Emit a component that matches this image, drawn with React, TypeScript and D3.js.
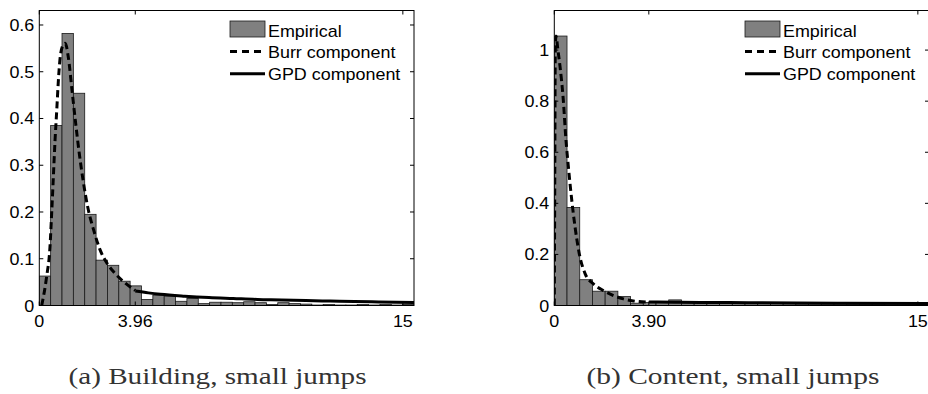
import React from "react";
import * as d3 from "d3";

// ---------- data ----------
const leftBinWidth = 0.4685;
const leftBins = [
  0.063, 0.385, 0.582, 0.454, 0.195, 0.097, 0.086, 0.052, 0.042, 0.013, 0.022,
  0.02, 0.009, 0.015, 0.004, 0.007, 0.007, 0.006, 0.008, 0.006, 0.002, 0.006,
  0.004, 0.003, 0.001, 0.002, 0.001, 0.001, 0.002, 0.001, 0.002, 0.001, 0.002,
];
const rightBinWidth = 0.5246;
const rightBins = [
  1.055, 0.384, 0.101, 0.056, 0.056, 0.035, 0.009, 0.012, 0.014, 0.022, 0.012,
  0.011, 0.01, 0.01, 0.009, 0.008, 0.012, 0.008, 0.007, 0.006, 0.006, 0.005,
  0.005, 0.004, 0.004, 0.004, 0.003, 0.003, 0.003, 0.003,
];
const leftBurr: [number, number][] = [
  [0.1, 0.0], [0.3, 0.061], [0.44, 0.125], [0.51, 0.197], [0.58, 0.275],
  [0.65, 0.354], [0.72, 0.418], [0.78, 0.475], [0.85, 0.525], [0.97, 0.556],
  [1.07, 0.561], [1.2, 0.53], [1.35, 0.46], [1.5, 0.39], [1.65, 0.325],
  [1.8, 0.27], [2.0, 0.21], [2.25, 0.16], [2.5, 0.12], [2.8, 0.09],
  [3.1, 0.07], [3.5, 0.05], [3.96, 0.032],
];
const leftGpd: [number, number][] = [
  [3.96, 0.031], [4.5, 0.027], [5, 0.024], [6, 0.02], [7, 0.017], [8, 0.015],
  [9, 0.013], [10, 0.012], [11, 0.0105], [12, 0.0095], [13, 0.0085],
  [14, 0.0075], [15.46, 0.0065],
];
const rightBurr: [number, number][] = [
  [0.0, 0.0], [0.02, 0.5], [0.04, 1.0], [0.07, 1.055], [0.15, 1.0],
  [0.235, 0.937], [0.37, 0.806], [0.48, 0.649], [0.58, 0.544], [0.72, 0.413],
  [0.855, 0.308], [1.03, 0.203], [1.27, 0.125], [1.61, 0.085], [2.02, 0.059],
  [2.44, 0.039], [2.85, 0.026], [3.26, 0.018], [3.9, 0.013],
];
const rightGpd: [number, number][] = [
  [3.9, 0.014], [5, 0.013], [6, 0.012], [8, 0.011], [10, 0.0095],
  [12, 0.0085], [15.46, 0.0075],
];
const leftXTicks = [0, 3.96, 15];
const leftXLabels = ["0", "3.96", "15"];
const leftYTicks = [0, 0.1, 0.2, 0.3, 0.4, 0.5, 0.6];
const leftYLabels = ["0", "0.1", "0.2", "0.3", "0.4", "0.5", "0.6"];
const rightXTicks = [0, 3.9, 15];
const rightXLabels = ["0", "3.90", "15"];
const rightYTicks = [0, 0.2, 0.4, 0.6, 0.8, 1];
const rightYLabels = ["0", "0.2", "0.4", "0.6", "0.8", "1"];
const legendLabels = ["Empirical", "Burr component", "GPD component"];
const captions = ["(a) Building, small jumps", "(b) Content, small jumps"];

const SANS = "'Liberation Sans', Arial, Helvetica, sans-serif";
const SERIF = "'Liberation Serif', 'Times New Roman', serif";

function Txt(props: {
  x: number;
  y: number;
  anchor?: string;
  size?: number;
  children: React.ReactNode;
}) {
  const { x, y, anchor = "start", size = 16, children } = props;
  return (
    <text
      transform={`translate(${x},${y}) scale(1.12,1)`}
      textAnchor={anchor as any}
      fontSize={size}
      fontFamily={SANS}
      fill="#000"
    >
      {children}
    </text>
  );
}

type PanelProps = {
  id: string;
  x0: number;
  x1: number;
  yMax: number;
  bins: number[];
  binWidth: number;
  burr: [number, number][];
  gpd: [number, number][];
  xTicks: number[];
  xLabels: string[];
  yTicks: number[];
  yLabels: string[];
  caption: string;
  capCenter: number;
  capWidth: number;
};

const TOP = 10.5;
const BOTTOM = 305.5;
const XMAX = 15.46;

function Panel(p: PanelProps) {
  const x = d3.scaleLinear().domain([0, XMAX]).range([p.x0, p.x1]);
  const y = d3.scaleLinear().domain([0, p.yMax]).range([BOTTOM, TOP]);
  const line = d3
    .line<[number, number]>()
    .x((d) => x(d[0]))
    .y((d) => y(d[1]))
    .curve(d3.curveMonotoneX);
  const tick = 4;
  const legX = p.x1 - 184;
  const txtX = p.x1 - 146;
  return (
    <g>
      <defs>
        <clipPath id={`clip-${p.id}`}>
          <rect x={p.x0} y={TOP} width={p.x1 - p.x0} height={BOTTOM - TOP} />
        </clipPath>
      </defs>
      <rect x={p.x0} y={TOP} width={p.x1 - p.x0} height={BOTTOM - TOP} fill="#fff" />
      <g clipPath={`url(#clip-${p.id})`}>
        {p.bins.map((v, i) => (
          <rect
            key={i}
            x={x(i * p.binWidth)}
            y={y(v)}
            width={x((i + 1) * p.binWidth) - x(i * p.binWidth)}
            height={BOTTOM - y(v)}
            fill="#808080"
            stroke="#1a1a1a"
            strokeWidth={0.8}
          />
        ))}
        <path
          d={line(p.burr) || ""}
          fill="none"
          stroke="#000"
          strokeWidth={3}
          strokeDasharray="7,4"
        />
        <path d={line(p.gpd) || ""} fill="none" stroke="#000" strokeWidth={3} />
      </g>
      {/* box */}
      <rect
        x={p.x0}
        y={TOP}
        width={p.x1 - p.x0}
        height={BOTTOM - TOP}
        fill="none"
        stroke="#000"
        strokeWidth={1}
      />
      {/* ticks */}
      {p.xTicks.map((t, i) => (
        <g key={`xt${i}`}>
          <line x1={x(t)} x2={x(t)} y1={BOTTOM} y2={BOTTOM - tick} stroke="#000" />
          <line x1={x(t)} x2={x(t)} y1={TOP} y2={TOP + tick} stroke="#000" />
          <Txt x={x(t)} y={BOTTOM + 21.5} anchor="middle">
            {p.xLabels[i]}
          </Txt>
        </g>
      ))}
      {p.yTicks.map((t, i) => (
        <g key={`yt${i}`}>
          <line x1={p.x0} x2={p.x0 + tick} y1={y(t)} y2={y(t)} stroke="#000" />
          <line x1={p.x1} x2={p.x1 - tick} y1={y(t)} y2={y(t)} stroke="#000" />
          <Txt x={p.x0 - 5} y={y(t) + 6} anchor="end">
            {p.yLabels[i]}
          </Txt>
        </g>
      ))}
      {/* legend */}
      <rect x={legX} y={21} width={35} height={16} fill="#808080" stroke="#1a1a1a" strokeWidth={0.8} />
      <line
        x1={legX}
        x2={legX + 35}
        y1={51.5}
        y2={51.5}
        stroke="#000"
        strokeWidth={3}
        strokeDasharray="7,5"
      />
      <line x1={legX} x2={legX + 35} y1={73.8} y2={73.8} stroke="#000" strokeWidth={3} />
      {legendLabels.map((l, i) => (
        <Txt key={l} x={txtX} y={36.7 + i * 21.7}>
          {l}
        </Txt>
      ))}
      <text
        x={p.capCenter}
        y={383.5}
        textAnchor="middle"
        fontFamily={SERIF}
        fontSize={23}
        fill="#333"
        textLength={p.capWidth}
        lengthAdjust="spacingAndGlyphs"
      >
        {p.caption}
      </text>
    </g>
  );
}

export default function App() {
  return (
    <svg
      width={928}
      height={394}
      style={{ position: "absolute", left: 0, top: 0, background: "#fff" }}
    >
      <rect width={928} height={394} fill="#fff" />
      <Panel
        id="a"
        x0={39.3}
        x1={414}
        yMax={0.631}
        bins={leftBins}
        binWidth={leftBinWidth}
        burr={leftBurr}
        gpd={leftGpd}
        xTicks={leftXTicks}
        xLabels={leftXLabels}
        yTicks={leftYTicks}
        yLabels={leftYLabels}
        caption={captions[0]}
        capCenter={217.5}
        capWidth={298}
      />
      <Panel
        id="b"
        x0={554.3}
        x1={929}
        yMax={1.155}
        bins={rightBins}
        binWidth={rightBinWidth}
        burr={rightBurr}
        gpd={rightGpd}
        xTicks={rightXTicks}
        xLabels={rightXLabels}
        yTicks={rightYTicks}
        yLabels={rightYLabels}
        caption={captions[1]}
        capCenter={733}
        capWidth={293}
      />
    </svg>
  );
}
